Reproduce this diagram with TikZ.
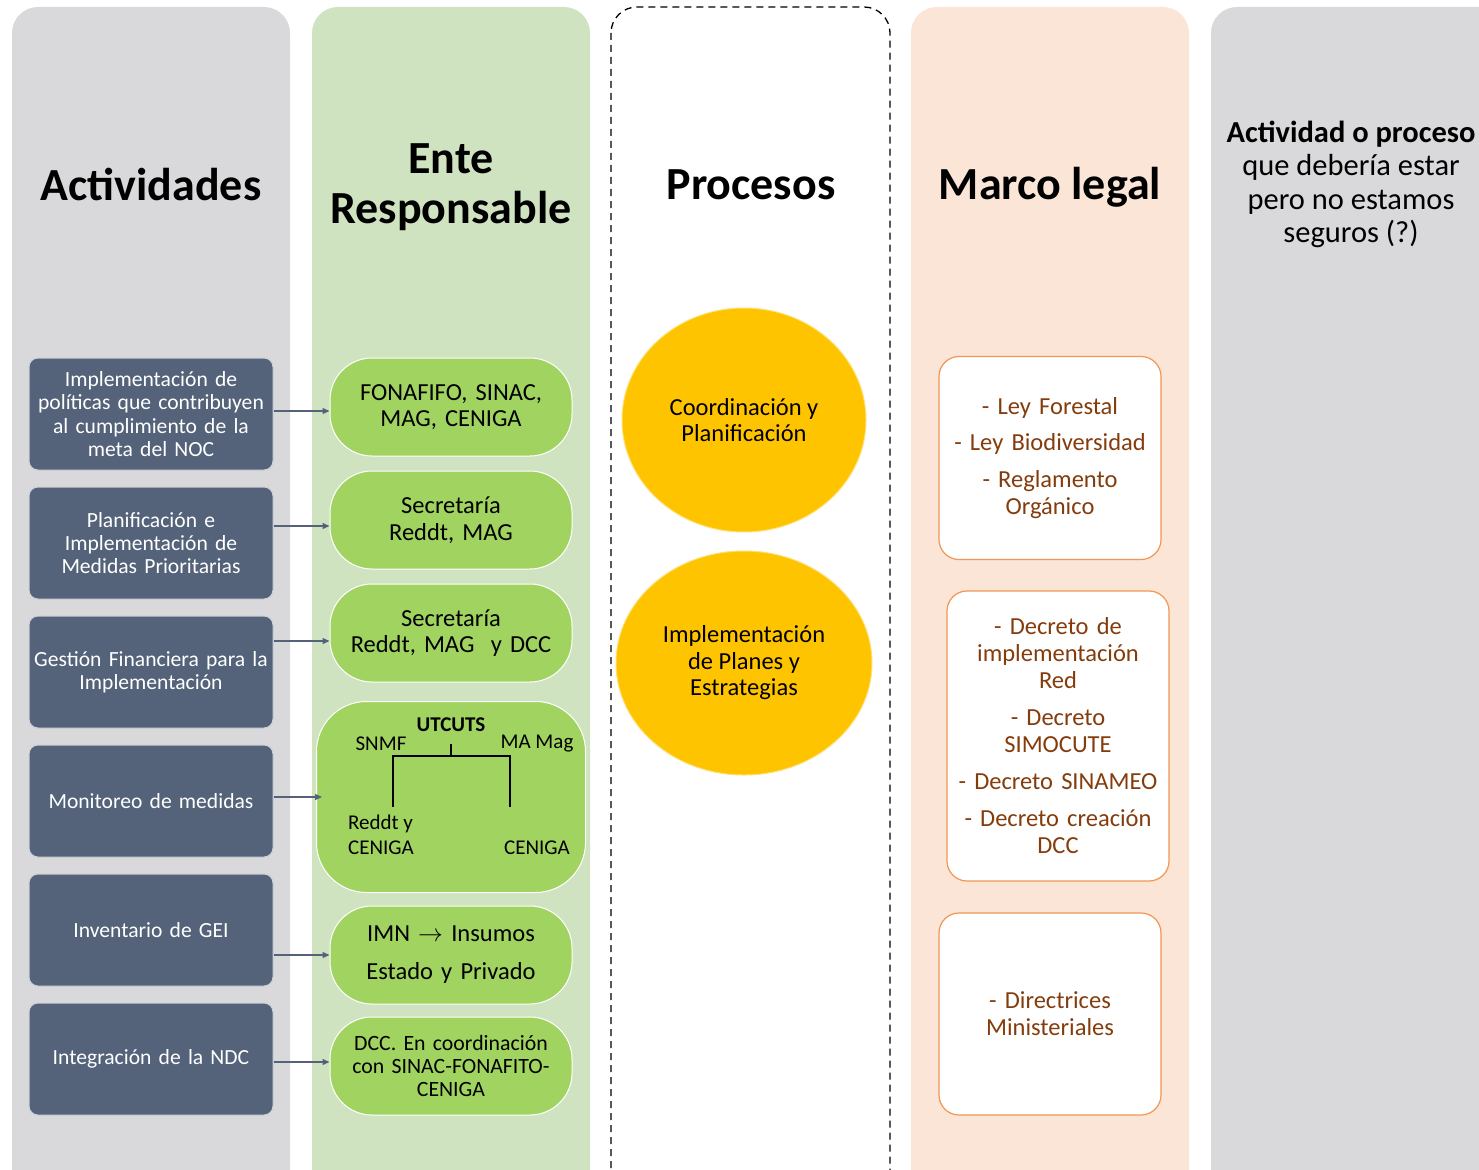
\documentclass[tikz,border=0pt]{standalone}
\usepackage{fontspec}
\setmainfont{Carlito}
\usetikzlibrary{positioning,arrows.meta,shapes.geometric}
\definecolor{fondogris}{RGB}{217,217,219}
\definecolor{fondoverde}{RGB}{208,227,193}
\definecolor{fondonaranja}{RGB}{251,229,214}
\definecolor{pizarra}{RGB}{84,99,122}
\definecolor{verde}{RGB}{161,211,97}
\definecolor{amarillo}{RGB}{255,196,0}
\definecolor{naranja}{RGB}{241,150,84}
\definecolor{cafe}{RGB}{132,60,12}
\tikzset{>={Triangle[length=7pt,width=6pt]}}

\begin{document}
\begin{tikzpicture}[x=1pt, y=-1pt, node distance=129pt,
    columna/.style={rounded corners=26pt},
    titulo/.style={font=\bfseries\fontsize{46}{50}\selectfont, align=center},
    actividad/.style={draw=white!70!pizarra, line width=1pt, fill=pizarra, text=white,
      rounded corners=9pt, minimum width=244pt, minimum height=112pt,
      text width=236pt, align=center, inner sep=0pt,
      font=\fontsize{21.6}{23.3}\selectfont},
    ente/.style={draw=white, line width=1pt, fill=verde, rounded corners=42pt,
      minimum width=242pt, minimum height=98pt, text width=230pt, align=center,
      inner sep=0pt, font=\fontsize{24.5}{26.5}\selectfont},
    arbol/.style={inner sep=0pt, font=\fontsize{21}{25}\selectfont},
    proceso/.style={ellipse, draw=amarillo!55!white, line width=1pt, fill=amarillo,
      minimum height=224pt, align=center, inner sep=0pt,
      font=\fontsize{24.5}{26.5}\selectfont},
    legal/.style={draw=naranja, line width=1.2pt, fill=white, rounded corners=20pt,
      minimum width=222pt, text width=214pt, align=center, inner sep=0pt, text=cafe,
      font=\fontsize{24.5}{27}\selectfont},
    flecha/.style={->, draw=pizarra, line width=1.3pt}]

  \clip (0,0) rectangle (1479,1169);

  % columnas de fondo
  \fill[columna, fondogris] (12,7) rectangle (290,1220);
  \fill[columna, fondoverde] (312,7) rectangle (590,1220);
  \draw[columna, line width=1.3pt, dash pattern=on 7pt off 5pt] (611,7) rectangle (890,1220);
  \fill[columna, fondonaranja] (911,7) rectangle (1189,1220);
  \fill[columna, fondogris] (1211,7) rectangle (1520,1220);

  % titulos
  \node[titulo] (tAct) at (151,184) {Actividades};
  \node[titulo] (tEnte) at (451,187) {Ente\\Responsable};
  \node[titulo] (tProc) at (751,185) {Procesos};
  \node[titulo] (tMarco) at (1050,187) {Marco legal};
  \node[align=center, font=\fontsize{30.5}{33.3}\selectfont] (tDuda) at (1351,184.5)
    {\textbf{Actividad o proceso}\\que debería estar\\pero no estamos\\seguros (?)};

  % actividades
  \node[actividad] (a1) at (151,414) {Implementación de\\políticas que contribuyen\\al cumplimiento de la\\meta del NOC};
  \node[actividad] (a2) [below of=a1] {Planificación e\\Implementación de\\Medidas Prioritarias};
  \node[actividad] (a3) [below of=a2] {Gestión Financiera para la\\Implementación};
  \node[actividad] (a4) [below of=a3] {Monitoreo de medidas};
  \node[actividad] (a5) [below of=a4] {Inventario de GEI};
  \node[actividad] (a6) [below of=a5] {Integración de la NDC};

  % entes responsables
  \node[ente] (e1) at (451,407) {FONAFIFO, SINAC,\\MAG, CENIGA};
  \node[ente] (e2) at (451,520) {Secretaría\\Reddt, MAG};
  \node[ente] (e3) at (451,633) {Secretaría\\Reddt, MAG\ \ y DCC};
  \node[ente, minimum width=269pt, minimum height=191pt, rounded corners=50pt] (e4) at (451,797) {};
  \node[ente] (e5) at (451,955) {IMN $\rightarrow$ Insumos\\[11.5pt]Estado y Privado};
  \node[ente, font=\fontsize{21.8}{23.3}\selectfont] (e6) at (451,1066) {DCC. En coordinación\\con SINAC-FONAFITO-\\CENIGA};

  % UTCUTS
  \node[arbol, font=\bfseries\fontsize{21}{25}\selectfont] (utcuts) at (451,725) {UTCUTS};
  \node[arbol] (snmf) at (381,744) {SNMF};
  \node[arbol] (mamag) at (537,744) {MA Mag};
  \node[arbol, align=left] (reddt) at (381,835) {Reddt y\\CENIGA};
  \node[arbol] (ceniga) at (537,848) {CENIGA};
  \draw[line width=1.3pt] (393,807) |- (510,756) -- (510,807);
  \draw[line width=1.3pt] (451,744) -- (451,756);

  % procesos
  \node[proceso, minimum width=244pt] (p1) at (744,420) {Coordinación y\\Planificación};
  \node[proceso, minimum width=256pt] (p2) at (744,663) {Implementación\\de Planes y\\Estrategias};

  % marco legal
  \node[legal, minimum height=203pt] (m1) at (1050,458) {- Ley Forestal\\[9.5pt]- Ley Biodiversidad\\[10pt]- Reglamento\\Orgánico};
  \node[legal, minimum height=290pt] (m2) at (1058,736) {- Decreto de\\implementación\\Red\\[10pt]- Decreto\\SIMOCUTE\\[10pt]- Decreto SINAMEO\\[10pt]- Decreto creación\\DCC};
  \node[legal, minimum height=202pt] (m3) at (1050,1014) {- Directrices\\Ministeriales};

  \draw[flecha] ([yshift=-4pt]a1.east |- e1.west) -- ([yshift=-4pt]e1.west);
  \draw[flecha] ([yshift=-6pt]a2.east |- e2.west) -- ([yshift=-6pt]e2.west);
  \draw[flecha] ([yshift=-8pt]a3.east |- e3.west) -- ([yshift=-8pt]e3.west);
  \draw[flecha] (a4.east |- e4.west) -- ([xshift=6pt]e4.west);
  \draw[flecha] (a5.east |- e5.west) -- (e5.west);
  \draw[flecha] ([yshift=4pt]a6.east |- e6.west) -- ([yshift=4pt]e6.west);
\end{tikzpicture}
\end{document}
